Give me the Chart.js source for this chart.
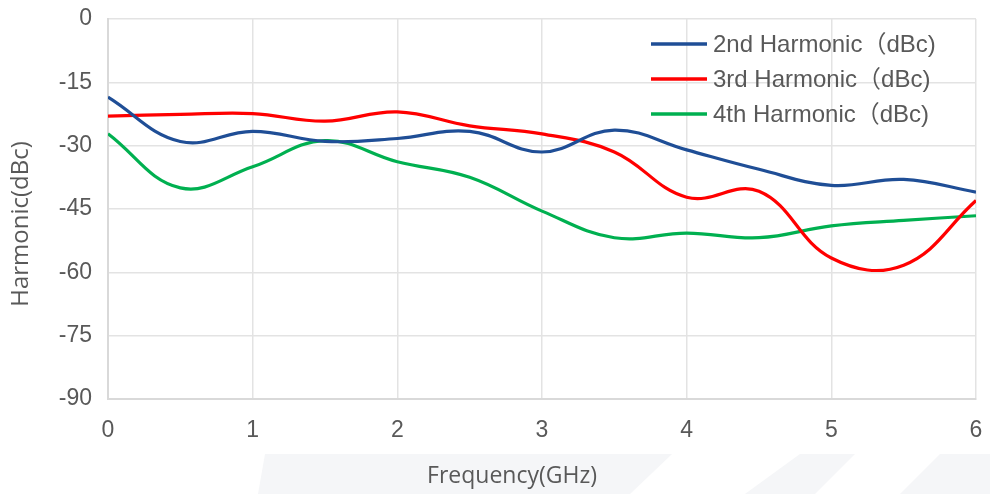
<!DOCTYPE html>
<html>
<head>
<meta charset="utf-8">
<script src="https://cdn.jsdelivr.net/npm/chart.js@4"></script>
<style>
  html, body { margin: 0; padding: 0; background: #fff; }
  #wrap { width: 990px; height: 494px; position: relative; }
</style>
</head>
<body>
<div id="wrap"><canvas id="myChart"></canvas></div>
<script>
// frequency points (GHz)
const freqs = [0, 0.5, 1, 1.5, 2, 2.5, 3, 3.5, 4, 4.5, 5, 5.5, 6];

// harmonic levels (dBc)
const harm2 = [-18.5, -29, -26.6, -29, -28.3, -26.6, -31.5, -26.3, -31, -35.6, -39.4, -38, -41];
const harm3 = [-23, -22.6, -22.4, -24.2, -22, -25.3, -27.2, -31.5, -42.2, -40.8, -56.6, -58.3, -43];
const harm4 = [-27.2, -40, -35, -28.8, -33.8, -37.5, -45.5, -51.8, -50.7, -51.8, -49, -47.7, -46.6];

const seriesLabels = ["2nd Harmonic\uFF08dBc)", "3rd Harmonic\uFF08dBc)", "4th Harmonic\uFF08dBc)"];
const seriesColors = ["#1F4E96", "#FF0000", "#00B050"];

const yTicks = [0, -15, -30, -45, -60, -75, -90];
const xTicks = [0, 1, 2, 3, 4, 5, 6];

const xTitle = 'Frequency(GHz)';
const yTitle = 'Harmonic(dBc)';

function toPoints(values) {
    return values.map((v, i) => ({ x: freqs[i], y: v }));
}

const ctx = document.getElementById('myChart');

// faint stripes at the bottom of the picture
const backdrop = {
    id: 'backdrop',
    beforeDraw(chart) {
        const c = chart.ctx;
        c.save();
        c.fillStyle = '#ffffff';
        c.fillRect(0, 0, chart.width, chart.height);
        c.fillStyle = '#f5f6f8';
        const shapes = [
            [[265, 454], [672, 454], [630, 494], [258, 494]],
            [[800, 454], [855, 454], [815, 494], [745, 494]],
            [[940, 454], [990, 454], [990, 494], [900, 494]]
        ];
        for (const s of shapes) {
            c.beginPath();
            c.moveTo(s[0][0], s[0][1]);
            for (let i = 1; i < s.length; i++) c.lineTo(s[i][0], s[i][1]);
            c.closePath();
            c.fill();
        }
        c.restore();
    }
};

// axis titles sit a bit off-centre in the original, so they are drawn here
const axisTitles = {
    id: 'axisTitles',
    afterDraw(chart) {
        const c = chart.ctx;
        c.save();
        c.fillStyle = '#595959';
        c.textAlign = 'center';
        c.textBaseline = 'middle';
        c.font = '23px "Open Sans", sans-serif';
        c.fillText(xTitle, 512, 476);
        c.translate(21, 224);
        c.rotate(-Math.PI / 2);
        c.font = '24px "Open Sans", sans-serif';
        c.fillText(yTitle, 0, 0);
        c.restore();
    }
};

// legend drawn inside the plot, top right
const innerLegend = {
    id: 'innerLegend',
    afterDraw(chart) {
        const c = chart.ctx;
        c.save();
        c.font = '24px "Liberation Sans", Arial, "Noto Sans CJK SC", sans-serif';
        c.textBaseline = 'middle';
        c.textAlign = 'left';
        chart.data.datasets.forEach((ds, i) => {
            const y = 44 + i * 35;
            c.strokeStyle = ds.borderColor;
            c.lineWidth = 3.5;
            c.beginPath();
            c.moveTo(651, y);
            c.lineTo(707, y);
            c.stroke();
            c.fillStyle = '#595959';
            c.fillText(ds.label, 713, y + 1);
        });
        c.restore();
    }
};

var dataChart = new Chart(ctx, {
    type: 'line',
    data: {
        datasets: [harm2, harm3, harm4].map((vals, i) => ({
            label: seriesLabels[i],
            data: toPoints(vals),
            borderColor: seriesColors[i],
            backgroundColor: seriesColors[i],
            borderWidth: 3.2,
            tension: 0.4,
            pointRadius: 0,
            fill: false
        }))
    },
    plugins: [backdrop, axisTitles, innerLegend],
    options: {
        responsive: true,
        maintainAspectRatio: false,
        animation: false,
        layout: {
            padding: { top: 19, right: 14, left: 0, bottom: 0 }
        },
        plugins: {
            legend: { display: false },
            tooltip: { enabled: false }
        },
        scales: {
            x: {
                type: 'linear',
                min: 0,
                max: 6,
                afterFit: (scale) => {
                    scale.height = 95;
                    scale.paddingLeft = 0;
                    scale.paddingRight = 0;
                },
                afterBuildTicks: (scale) => { scale.ticks = xTicks.map(v => ({ value: v })); },
                border: { display: true, color: '#d9d9d9', width: 2 },
                grid: { color: '#e3e3e3', lineWidth: 1.5, drawTicks: false },
                ticks: {
                    padding: 18,
                    color: '#595959',
                    font: { family: '"Liberation Sans", Arial', size: 23 }
                },
                title: { display: false, text: xTitle }
            },
            y: {
                min: -90,
                max: 0,
                afterFit: (scale) => {
                    scale.width = 108;
                    scale.paddingTop = 0;
                    scale.paddingBottom = 0;
                },
                afterBuildTicks: (scale) => { scale.ticks = yTicks.map(v => ({ value: v })); },
                border: { display: true, color: '#d9d9d9', width: 2 },
                grid: { color: '#e3e3e3', lineWidth: 1.5, drawTicks: false },
                ticks: {
                    padding: 16,
                    color: '#595959',
                    font: { family: '"Liberation Sans", Arial', size: 23 }
                },
                title: { display: false, text: yTitle }
            }
        }
    }
});
</script>
</body>
</html>
